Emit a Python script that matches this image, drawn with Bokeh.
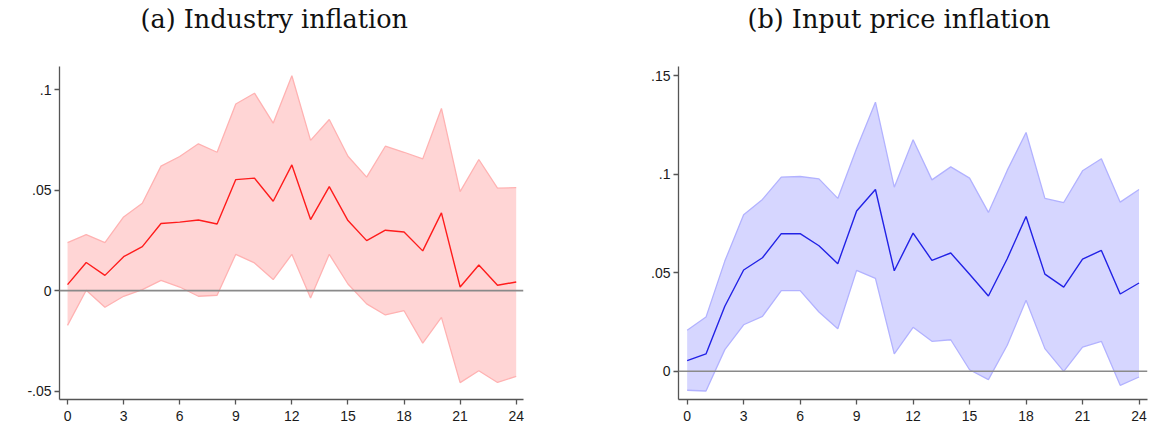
from bokeh.plotting import figure
from bokeh.layouts import row, column
from bokeh.models import Range1d, FixedTicker, Span, Title
from bokeh.embed import file_html
from bokeh.resources import INLINE

horizon = list(range(25))

# Panel (a): Industry inflation
a_mid = [0.0030, 0.0140, 0.0076, 0.0169, 0.0219, 0.0334, 0.0341, 0.0352, 0.0332,
         0.0553, 0.0560, 0.0445, 0.0626, 0.0354, 0.0518, 0.0349, 0.0249, 0.0301,
         0.0292, 0.0198, 0.0387, 0.0018, 0.0128, 0.0027, 0.0043]
a_upper = [0.0239, 0.0279, 0.0239, 0.0367, 0.0435, 0.0620, 0.0668, 0.0731, 0.0689,
           0.0929, 0.0983, 0.0834, 0.1070, 0.0748, 0.0852, 0.0669, 0.0565, 0.0719,
           0.0689, 0.0656, 0.0907, 0.0493, 0.0653, 0.0510, 0.0513]
a_lower = [-0.0173, 0.0002, -0.0083, -0.0028, 0.0005, 0.0051, 0.0018, -0.0028, -0.0023,
           0.0181, 0.0138, 0.0055, 0.0181, -0.0037, 0.0181, 0.0033, -0.0066, -0.0121,
           -0.0100, -0.0261, -0.0133, -0.0458, -0.0399, -0.0457, -0.0427]

# Panel (b): Input price inflation
b_mid = [0.0054, 0.0088, 0.0330, 0.0514, 0.0576, 0.0698, 0.0698, 0.0637, 0.0546,
         0.0813, 0.0922, 0.0510, 0.0701, 0.0563, 0.0600, 0.0492, 0.0382, 0.0571,
         0.0785, 0.0493, 0.0427, 0.0569, 0.0613, 0.0392, 0.0448]
b_upper = [0.0208, 0.0275, 0.0559, 0.0794, 0.0872, 0.0985, 0.0988, 0.0976, 0.0877,
           0.1130, 0.1365, 0.0934, 0.1174, 0.0971, 0.1037, 0.0980, 0.0806, 0.1019,
           0.1211, 0.0877, 0.0856, 0.1017, 0.1078, 0.0858, 0.0922]
b_lower = [-0.0096, -0.0100, 0.0110, 0.0236, 0.0279, 0.0409, 0.0409, 0.0301, 0.0216,
           0.0512, 0.0471, 0.0088, 0.0223, 0.0152, 0.0160, 0.0008, -0.0042, 0.0132,
           0.0360, 0.0115, 0.0000, 0.0123, 0.0152, -0.0071, -0.0029]

x_ticks = [0, 3, 6, 9, 12, 15, 18, 21, 24]
a_yticks = [-0.05, 0.0, 0.05, 0.1]
a_ylabels = ["-.05", "0", ".05", ".1"]
b_yticks = [0.0, 0.05, 0.1, 0.15]
b_ylabels = ["0", ".05", ".1", ".15"]

titles = ["(a) Industry inflation", "(b) Input price inflation"]

SANS = "Liberation Sans"
SERIF = "DejaVu Serif"
STRIP_H = 40


def make_title_strip(title, width, offset):
    s = figure(width=width, height=STRIP_H, output_backend="svg", toolbar_location=None,
               x_axis_type=None, y_axis_type=None,
               min_border_left=0, min_border_right=0, min_border_top=0, min_border_bottom=0)
    s.title = None
    s.grid.visible = False
    s.outline_line_color = None
    s.border_fill_color = "white"
    s.background_fill_color = "white"
    t = Title(text=title, text_font=SERIF, text_font_size="25.5px",
              text_font_style="normal", text_color="#111111", align="left",
              standoff=2, offset=offset)
    s.add_layout(t, "above")
    return s


def make_panel(mid, upper, lower, yticks, ylabels, xr, yr, fill, edge, linec,
               width, border_left, border_right):
    p = figure(width=width, height=441 - STRIP_H, output_backend="svg", toolbar_location=None,
               x_range=Range1d(*xr), y_range=Range1d(*yr),
               min_border_left=border_left, min_border_right=border_right,
               min_border_top=66 - STRIP_H, min_border_bottom=42)
    p.title = None
    p.grid.visible = False
    p.outline_line_color = None
    p.background_fill_color = "white"
    p.border_fill_color = "white"

    p.varea(x=horizon, y1=lower, y2=upper, fill_color=fill, fill_alpha=1.0)
    p.line(horizon, upper, line_color=edge, line_width=1.3)
    p.line(horizon, lower, line_color=edge, line_width=1.3)
    p.add_layout(Span(location=0, dimension="width", line_color="#8a8a8a", line_width=1.6))
    p.line(horizon, mid, line_color=linec, line_width=1.4)

    for ax in (p.xaxis, p.yaxis):
        ax.axis_line_color = "#555555"
        ax.axis_line_width = 1.3
        ax.major_tick_line_color = "#555555"
        ax.major_tick_line_width = 1.3
        ax.major_tick_out = 5
        ax.major_tick_in = 0
        ax.minor_tick_line_color = None
        ax.major_label_text_font = SANS
        ax.major_label_text_font_size = "14px"
        ax.major_label_text_color = "#1a1a1a"
    p.xaxis.ticker = FixedTicker(ticks=x_ticks)
    p.xaxis.major_label_standoff = 6
    p.yaxis.ticker = FixedTicker(ticks=yticks)
    p.yaxis.major_label_standoff = 3
    overrides = {}
    for tk, lb in zip(yticks, ylabels):
        overrides[tk] = lb
    p.yaxis.major_label_overrides = overrides
    return p


ta = make_title_strip(titles[0], 608, 140)
tb = make_title_strip(titles[1], 552, 139)
pa = make_panel(a_mid, a_upper, a_lower, a_yticks, a_ylabels,
                (-0.43, 24.39), (-0.0542, 0.1116),
                "#ffd5d5", "#ffb2b2", "#ff1c1c", 608, 59, 85)
pb = make_panel(b_mid, b_upper, b_lower, b_yticks, b_ylabels,
                (-0.46, 24.45), (-0.0143, 0.1546),
                "#d6d6ff", "#b2b2ff", "#2222e6", 552, 70, 13)

layout = column(row(ta, tb), row(pa, pb))
open("out.html", "w").write(file_html(layout, INLINE))
